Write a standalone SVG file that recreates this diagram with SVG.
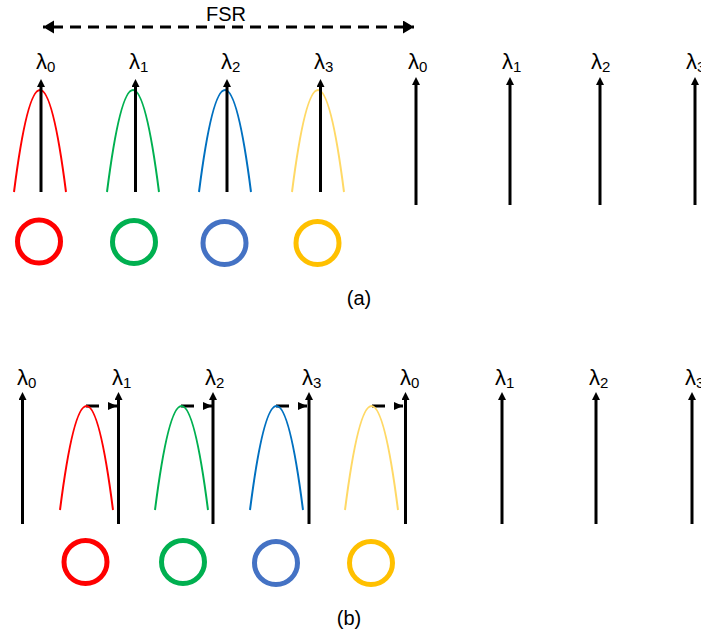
<svg xmlns="http://www.w3.org/2000/svg" width="701" height="637" viewBox="0 0 701 637">
<style>
text{font-family:"Liberation Sans",Arial,sans-serif;fill:#000}
.lam{font-size:22px}
.sub{font-size:15px}
.cap{font-size:20px}
.ax{stroke:#000;stroke-width:3;fill:none;marker-end:url(#ah)}
.cv{fill:none;stroke-width:2}
.ring{fill:none;stroke-width:5}
.shift{stroke:#000;stroke-width:3;stroke-dasharray:13 9;fill:none;marker-end:url(#sh)}
</style>
<defs>
<marker id="ah" markerUnits="userSpaceOnUse" markerWidth="10" markerHeight="10" refX="3" refY="4" orient="auto">
<path d="M0,0 L8,4 L0,8 z" fill="#000"/>
</marker>
<marker id="sh" markerUnits="userSpaceOnUse" markerWidth="10" markerHeight="10" refX="9" refY="4" orient="auto">
<path d="M0,0 L9,4 L0,8 z" fill="#000"/>
</marker>
<marker id="fsr" markerUnits="userSpaceOnUse" markerWidth="14" markerHeight="14" refX="11" refY="6.5" orient="auto-start-reverse">
<path d="M0,0 L11,6.5 L0,13 z" fill="#000"/>
</marker>
</defs>

<!-- Part (a) -->
<g id="fsr-label">
<line x1="43" y1="27" x2="414" y2="27" stroke="#000" stroke-width="3" stroke-dasharray="11 7" stroke-dashoffset="-9" marker-start="url(#fsr)" marker-end="url(#fsr)"/>
<text class="cap" x="226" y="21" text-anchor="middle">FSR</text>
</g>

<g id="a-curves">
<path class="cv" stroke="#FF0000" d="M14,192 Q40,-12 66,192"/>
<path class="cv" stroke="#00B050" d="M107,192 Q133,-12 159,192"/>
<path class="cv" stroke="#0070C0" d="M199,192 Q225,-12 251,192"/>
<path class="cv" stroke="#FFD966" d="M292,192 Q318,-12 344,192"/>
</g>

<g id="connectors">
<line class="ax" x1="41" y1="192" x2="41" y2="84"/>
<line class="ax" x1="135.5" y1="192" x2="135.5" y2="84"/>
<line class="ax" x1="227" y1="192" x2="227" y2="84"/>
<line class="ax" x1="320.5" y1="192" x2="320.5" y2="84"/>
<line class="ax" x1="416" y1="205" x2="416" y2="82"/>
<line class="ax" x1="510" y1="205" x2="510" y2="82"/>
<line class="ax" x1="600" y1="205" x2="600" y2="82"/>
<line class="ax" x1="695" y1="205" x2="695" y2="82"/>

<line class="ax" x1="22.5" y1="524" x2="22.5" y2="397"/>
<line class="ax" x1="118.5" y1="524" x2="118.5" y2="397"/>
<line class="ax" x1="213" y1="524" x2="213" y2="397"/>
<line class="ax" x1="309" y1="524" x2="309" y2="397"/>
<line class="ax" x1="405.5" y1="524" x2="405.5" y2="397"/>
<line class="ax" x1="502" y1="524" x2="502" y2="397"/>
<line class="ax" x1="596" y1="524" x2="596" y2="397"/>
<line class="ax" x1="692" y1="524" x2="692" y2="397"/>

<line class="shift" x1="86" y1="406" x2="117" y2="406"/>
<line class="shift" x1="181" y1="406" x2="212" y2="406"/>
<line class="shift" x1="276" y1="406" x2="307" y2="406"/>
<line class="shift" x1="372" y1="406" x2="403" y2="406"/>
</g>

<g id="a-labels">
<text class="lam" x="36" y="69">λ<tspan class="sub" dy="3">0</tspan></text>
<text class="lam" x="129" y="69">λ<tspan class="sub" dy="3">1</tspan></text>
<text class="lam" x="221" y="69">λ<tspan class="sub" dy="3">2</tspan></text>
<text class="lam" x="314" y="69">λ<tspan class="sub" dy="3">3</tspan></text>
<text class="lam" x="408" y="69">λ<tspan class="sub" dy="3">0</tspan></text>
<text class="lam" x="502" y="69">λ<tspan class="sub" dy="3">1</tspan></text>
<text class="lam" x="591" y="69">λ<tspan class="sub" dy="3">2</tspan></text>
<text class="lam" x="686" y="69">λ<tspan class="sub" dy="3">3</tspan></text>
</g>

<g id="a-ring-red"><circle class="ring" stroke="#FF0000" cx="39" cy="241.5" r="21.5"/></g>
<g id="a-ring-green"><circle class="ring" stroke="#00B050" cx="134" cy="242" r="21.5"/></g>
<g id="a-ring-blue"><circle class="ring" stroke="#4472C4" cx="224.5" cy="243" r="21.5"/></g>
<g id="a-ring-yellow"><circle class="ring" stroke="#FFC000" cx="317.5" cy="243" r="21.5"/></g>

<g id="caption-a"><text class="cap" x="359" y="305" text-anchor="middle">(a)</text></g>

<!-- Part (b) -->
<g id="b-curves">
<path class="cv" stroke="#FF0000" d="M60,510 Q86.5,302 113,510"/>
<path class="cv" stroke="#00B050" d="M155,510 Q181.5,302 208,510"/>
<path class="cv" stroke="#0070C0" d="M250,510 Q276.5,302 303,510"/>
<path class="cv" stroke="#FFD966" d="M345,510 Q371.5,302 398,510"/>
</g>

<g id="b-labels">
<text class="lam" x="17" y="385">λ<tspan class="sub" dy="3">0</tspan></text>
<text class="lam" x="112" y="385">λ<tspan class="sub" dy="3">1</tspan></text>
<text class="lam" x="205" y="385">λ<tspan class="sub" dy="3">2</tspan></text>
<text class="lam" x="302" y="385">λ<tspan class="sub" dy="3">3</tspan></text>
<text class="lam" x="400" y="385">λ<tspan class="sub" dy="3">0</tspan></text>
<text class="lam" x="495" y="385">λ<tspan class="sub" dy="3">1</tspan></text>
<text class="lam" x="589" y="385">λ<tspan class="sub" dy="3">2</tspan></text>
<text class="lam" x="685" y="385">λ<tspan class="sub" dy="3">3</tspan></text>
</g>

<g id="b-ring-red"><circle class="ring" stroke="#FF0000" cx="85.5" cy="562" r="21.5"/></g>
<g id="b-ring-green"><circle class="ring" stroke="#00B050" cx="183" cy="562" r="21.5"/></g>
<g id="b-ring-blue"><circle class="ring" stroke="#4472C4" cx="276" cy="563" r="21.5"/></g>
<g id="b-ring-yellow"><circle class="ring" stroke="#FFC000" cx="371" cy="563" r="21.5"/></g>

<g id="caption-b"><text class="cap" x="349" y="625" text-anchor="middle">(b)</text></g>
</svg>
